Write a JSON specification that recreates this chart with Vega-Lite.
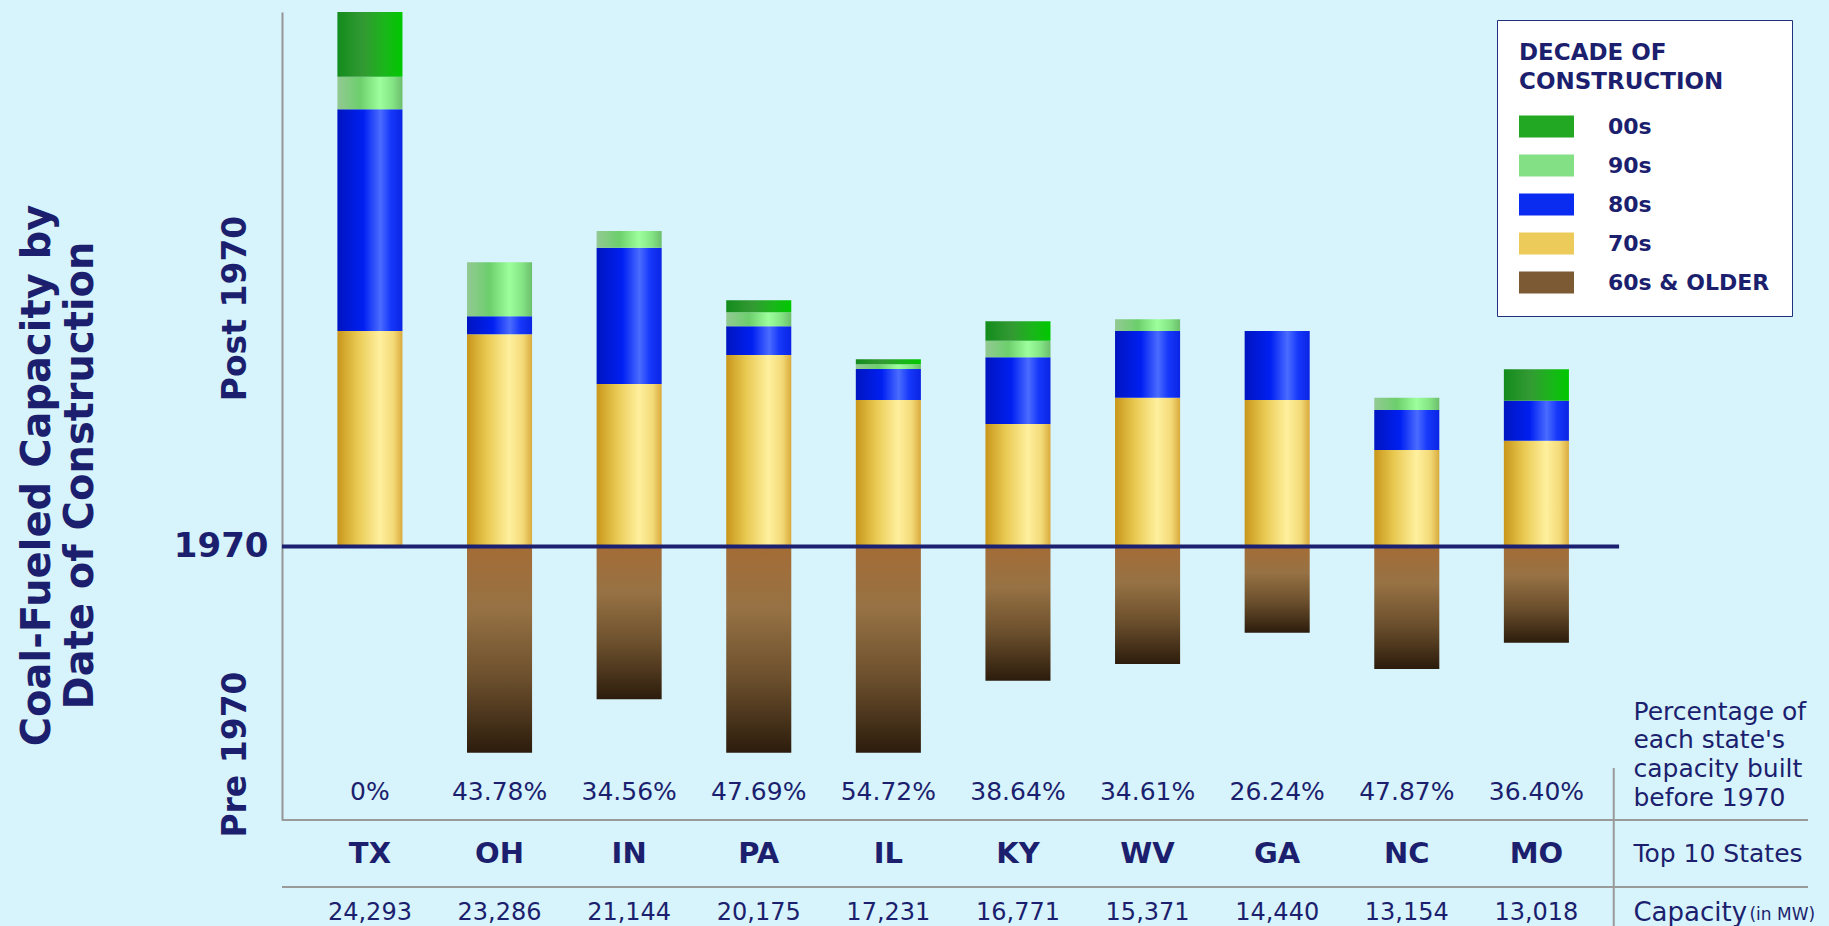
{
  "$schema": "https://vega.github.io/schema/vega-lite/v6.json",
  "autosize": {"type": "none"},
  "width": 1526,
  "height": 808,
  "padding": {"left": 282, "top": 12, "right": 21, "bottom": 106},
  "background": "#d7f3fb",
  "config": {
    "view": {"stroke": null},
    "font": "DejaVu Sans",
    "text": {"font": "DejaVu Sans", "color": "#1b1f6e"},
    "axis": {"labelFont": "DejaVu Sans", "titleFont": "DejaVu Sans"},
    "legend": {"labelFont": "DejaVu Sans", "titleFont": "DejaVu Sans"}
  },
  "datasets": {
    "bars": [
      {"state": "TX", "decade": "70s", "year": 1970, "mw": 9794},
      {"state": "TX", "decade": "80s", "year": 1980, "mw": 10076},
      {"state": "TX", "decade": "90s", "year": 1990, "mw": 1482},
      {"state": "TX", "decade": "00s", "year": 2000, "mw": 2941},
      {"state": "OH", "decade": "60s & OLDER", "year": 1960, "mw": -9372},
      {"state": "OH", "decade": "70s", "year": 1970, "mw": 9645},
      {"state": "OH", "decade": "80s", "year": 1980, "mw": 818},
      {"state": "OH", "decade": "90s", "year": 1990, "mw": 2454},
      {"state": "IN", "decade": "60s & OLDER", "year": 1960, "mw": -6945},
      {"state": "IN", "decade": "70s", "year": 1970, "mw": 7386},
      {"state": "IN", "decade": "80s", "year": 1980, "mw": 6195},
      {"state": "IN", "decade": "90s", "year": 1990, "mw": 759},
      {"state": "PA", "decade": "60s & OLDER", "year": 1960, "mw": -9372},
      {"state": "PA", "decade": "70s", "year": 1970, "mw": 8704},
      {"state": "PA", "decade": "80s", "year": 1980, "mw": 1304},
      {"state": "PA", "decade": "90s", "year": 1990, "mw": 636},
      {"state": "PA", "decade": "00s", "year": 2000, "mw": 545},
      {"state": "IL", "decade": "60s & OLDER", "year": 1960, "mw": -9372},
      {"state": "IL", "decade": "70s", "year": 1970, "mw": 6658},
      {"state": "IL", "decade": "80s", "year": 1980, "mw": 1409},
      {"state": "IL", "decade": "90s", "year": 1990, "mw": 214},
      {"state": "IL", "decade": "00s", "year": 2000, "mw": 227},
      {"state": "KY", "decade": "60s & OLDER", "year": 1960, "mw": -6099},
      {"state": "KY", "decade": "70s", "year": 1970, "mw": 5568},
      {"state": "KY", "decade": "80s", "year": 1980, "mw": 3032},
      {"state": "KY", "decade": "90s", "year": 1990, "mw": 754},
      {"state": "KY", "decade": "00s", "year": 2000, "mw": 882},
      {"state": "WV", "decade": "60s & OLDER", "year": 1960, "mw": -5340},
      {"state": "WV", "decade": "70s", "year": 1970, "mw": 6763},
      {"state": "WV", "decade": "80s", "year": 1980, "mw": 3032},
      {"state": "WV", "decade": "90s", "year": 1990, "mw": 532},
      {"state": "GA", "decade": "60s & OLDER", "year": 1960, "mw": -3918},
      {"state": "GA", "decade": "70s", "year": 1970, "mw": 6658},
      {"state": "GA", "decade": "80s", "year": 1980, "mw": 3136},
      {"state": "NC", "decade": "60s & OLDER", "year": 1960, "mw": -5568},
      {"state": "NC", "decade": "70s", "year": 1970, "mw": 4386},
      {"state": "NC", "decade": "80s", "year": 1980, "mw": 1818},
      {"state": "NC", "decade": "90s", "year": 1990, "mw": 559},
      {"state": "MO", "decade": "60s & OLDER", "year": 1960, "mw": -4372},
      {"state": "MO", "decade": "70s", "year": 1970, "mw": 4809},
      {"state": "MO", "decade": "80s", "year": 1980, "mw": 1818},
      {"state": "MO", "decade": "00s", "year": 2000, "mw": 1427}
    ],
    "states": [
      {"state": "TX", "pre1970": "0%", "capacity": 24293},
      {"state": "OH", "pre1970": "43.78%", "capacity": 23286},
      {"state": "IN", "pre1970": "34.56%", "capacity": 21144},
      {"state": "PA", "pre1970": "47.69%", "capacity": 20175},
      {"state": "IL", "pre1970": "54.72%", "capacity": 17231},
      {"state": "KY", "pre1970": "38.64%", "capacity": 16771},
      {"state": "WV", "pre1970": "34.61%", "capacity": 15371},
      {"state": "GA", "pre1970": "26.24%", "capacity": 14440},
      {"state": "NC", "pre1970": "47.87%", "capacity": 13154},
      {"state": "MO", "pre1970": "36.40%", "capacity": 13018}
    ]
  },
  "resolve": {"axis": {"y": "independent"}},
  "layer": [
    {
      "data": {"name": "bars"},
      "mark": {"type": "bar"},
      "encoding": {
        "x": {
          "field": "state", "type": "nominal", "axis": null,
          "scale": {"type": "band", "domain": ["TX", "OH", "IN", "PA", "IL", "KY", "WV", "GA", "NC", "MO", "notes"], "paddingInner": 0.498, "paddingOuter": 0.636, "align": 0.336}
        },
        "y": {
          "field": "mw", "type": "quantitative", "stack": "zero",
          "scale": {"domain": [-12430, 24293], "nice": false, "zero": false},
          "axis": {
            "orient": "left", "values": [0], "labelExpr": "'1970'", "labelFontSize": 34, "labelFontWeight": "bold",
            "labelColor": "#1b1f6e", "labelPadding": 14, "labelBaseline": "middle", "ticks": false, "grid": false,
            "domain": true, "domainColor": "#959595", "domainWidth": 2, "title": null
          }
        },
        "color": {
          "condition": [
            {"test": "datum.decade === '00s'", "value": {"gradient": "linear", "x1": 0, "y1": 0, "x2": 1, "y2": 0, "stops": [{"offset": 0, "color": "#138c1c"}, {"offset": 0.4, "color": "#339a33"}, {"offset": 0.75, "color": "#18b818"}, {"offset": 1, "color": "#00c800"}]}},
            {"test": "datum.decade === '90s'", "value": {"gradient": "linear", "x1": 0, "y1": 0, "x2": 1, "y2": 0, "stops": [{"offset": 0, "color": "#93c993"}, {"offset": 0.35, "color": "#6ccf6c"}, {"offset": 0.65, "color": "#9cff9c"}, {"offset": 0.85, "color": "#84e484"}, {"offset": 1, "color": "#6cbf6c"}]}},
            {"test": "datum.decade === '80s'", "value": {"gradient": "linear", "x1": 0, "y1": 0, "x2": 1, "y2": 0, "stops": [{"offset": 0, "color": "#0014c0"}, {"offset": 0.4, "color": "#0020f2"}, {"offset": 0.66, "color": "#4a6cff"}, {"offset": 0.82, "color": "#1638fa"}, {"offset": 1, "color": "#0a24e4"}]}},
            {"test": "datum.decade === '70s'", "value": {"gradient": "linear", "x1": 0, "y1": 0, "x2": 1, "y2": 0, "stops": [{"offset": 0, "color": "#c8961a"}, {"offset": 0.3, "color": "#e8c850"}, {"offset": 0.65, "color": "#fff09e"}, {"offset": 0.86, "color": "#f3da78"}, {"offset": 1, "color": "#d9aa3c"}]}}
          ],
          "value": {"gradient": "linear", "x1": 0, "y1": 0, "x2": 0, "y2": 1, "stops": [{"offset": 0, "color": "#a46c36"}, {"offset": 0.3, "color": "#977244"}, {"offset": 0.65, "color": "#6a4e2c"}, {"offset": 1, "color": "#2c1c0c"}]}
        },
        "order": {"field": "year", "type": "quantitative"}
      }
    },
    {
      "data": {"name": "bars"},
      "mark": {"type": "square", "opacity": 0, "filled": true},
      "encoding": {
        "color": {
          "field": "decade", "type": "nominal",
          "scale": {"domain": ["00s", "90s", "80s", "70s", "60s & OLDER"], "range": ["#22a822", "#84e084", "#0a2cf0", "#eccb5a", "#7c5a34"]},
          "legend": {
            "orient": "none", "legendX": 1215, "legendY": 8,
            "title": ["DECADE OF", "CONSTRUCTION"], "titleFontSize": 23, "titleFontWeight": "bold", "titleColor": "#1b1f6e",
            "titleLineHeight": 29, "titlePadding": 5, "titleLimit": 500,
            "fillColor": "#ffffff", "strokeColor": "#23307e", "padding": 22,
            "symbolType": "M-1,-0.4H1V0.4H-1Z", "symbolSize": 3025, "symbolStrokeWidth": 0, "symbolOpacity": 1,
            "labelFontSize": 22, "labelFontWeight": "bold", "labelColor": "#1b1f6e", "labelOffset": 34, "labelLimit": 500, "rowPadding": -25
          }
        }
      }
    },
    {
      "data": {"values": [{"boundary": "1970"}]},
      "mark": {"type": "rule", "color": "#1b2070", "strokeWidth": 4},
      "encoding": {
        "x": {"datum": "TX", "type": "nominal", "bandPosition": -0.852, "axis": null},
        "x2": {"datum": "notes", "bandPosition": -0.221},
        "y": {
          "datum": 0, "type": "quantitative",
          "axis": {
            "orient": "left", "values": [10840, -9431], "labelExpr": "datum.value > 0 ? 'Post 1970' : 'Pre 1970'",
            "labelAngle": 270, "labelAlign": "center", "labelBaseline": "middle", "labelFontSize": 33, "labelFontWeight": "bold",
            "labelColor": "#1b1f6e", "labelPadding": 47, "labelLimit": 500, "ticks": false, "domain": false, "grid": false,
            "title": ["Coal-Fueled Capacity by", "Date of Construction"], "titleFontSize": 40, "titleFontWeight": "bold",
            "titleColor": "#1b1f6e", "titleLineHeight": 43, "titlePadding": 119, "titleY": 463, "titleLimit": 1000
          }
        }
      }
    },
    {
      "data": {"values": [{"row": "states"}]},
      "mark": {"type": "rule", "color": "#9a9a9a", "strokeWidth": 2},
      "encoding": {"y": {"datum": -12430, "type": "quantitative", "axis": null}}
    },
    {
      "data": {"values": [{"row": "capacity"}]},
      "mark": {"type": "rule", "color": "#9a9a9a", "strokeWidth": 2},
      "encoding": {"y": {"datum": -15476, "type": "quantitative", "axis": null}}
    },
    {
      "data": {"values": [{"column": "notes"}]},
      "mark": {"type": "rule", "color": "#9a9a9a", "strokeWidth": 2},
      "encoding": {
        "x": {"datum": "notes", "type": "nominal", "bandPosition": -0.303, "axis": null},
        "y": {"datum": -10067, "type": "quantitative", "axis": null},
        "y2": {"datum": -17300}
      }
    },
    {
      "data": {"name": "states"},
      "mark": {"type": "text", "fontSize": 25, "baseline": "middle", "align": "center"},
      "encoding": {
        "x": {"field": "state", "type": "nominal", "axis": null},
        "y": {"datum": -11158, "type": "quantitative", "axis": null},
        "text": {"field": "pre1970"}
      }
    },
    {
      "data": {"name": "states"},
      "mark": {"type": "text", "fontSize": 29, "fontWeight": "bold", "baseline": "middle", "align": "center"},
      "encoding": {
        "x": {"field": "state", "type": "nominal", "axis": null},
        "y": {"datum": -13976, "type": "quantitative", "axis": null},
        "text": {"field": "state"}
      }
    },
    {
      "data": {"name": "states"},
      "mark": {"type": "text", "fontSize": 24, "baseline": "middle", "align": "center"},
      "encoding": {
        "x": {"field": "state", "type": "nominal", "axis": null},
        "y": {"datum": -16657, "type": "quantitative", "axis": null},
        "text": {"field": "capacity", "type": "quantitative", "format": ","}
      }
    },
    {
      "data": {"values": [{"column": "notes"}]},
      "mark": {"type": "text", "fontSize": 25, "baseline": "middle", "align": "left", "lineHeight": 28.6},
      "encoding": {
        "x": {"datum": "notes", "type": "nominal", "bandPosition": 0, "axis": null},
        "y": {"datum": -7508, "type": "quantitative", "axis": null},
        "text": {"value": ["Percentage of", "each state's", "capacity built", "before 1970"]}
      }
    },
    {
      "data": {"values": [{"column": "notes"}]},
      "mark": {"type": "text", "fontSize": 25, "baseline": "middle", "align": "left"},
      "encoding": {
        "x": {"datum": "notes", "type": "nominal", "bandPosition": 0, "axis": null},
        "y": {"datum": -13976, "type": "quantitative", "axis": null},
        "text": {"value": "Top 10 States"}
      }
    },
    {
      "data": {"values": [{"column": "notes"}]},
      "mark": {"type": "text", "fontSize": 26, "baseline": "middle", "align": "left"},
      "encoding": {
        "x": {"datum": "notes", "type": "nominal", "bandPosition": 0, "axis": null},
        "y": {"datum": -16657, "type": "quantitative", "axis": null},
        "text": {"value": "Capacity"}
      }
    },
    {
      "data": {"values": [{"column": "notes"}]},
      "mark": {"type": "text", "fontSize": 17, "baseline": "middle", "align": "left", "dx": 116, "dy": 2},
      "encoding": {
        "x": {"datum": "notes", "type": "nominal", "bandPosition": 0, "axis": null},
        "y": {"datum": -16657, "type": "quantitative", "axis": null},
        "text": {"value": "(in MW)"}
      }
    }
  ]
}
